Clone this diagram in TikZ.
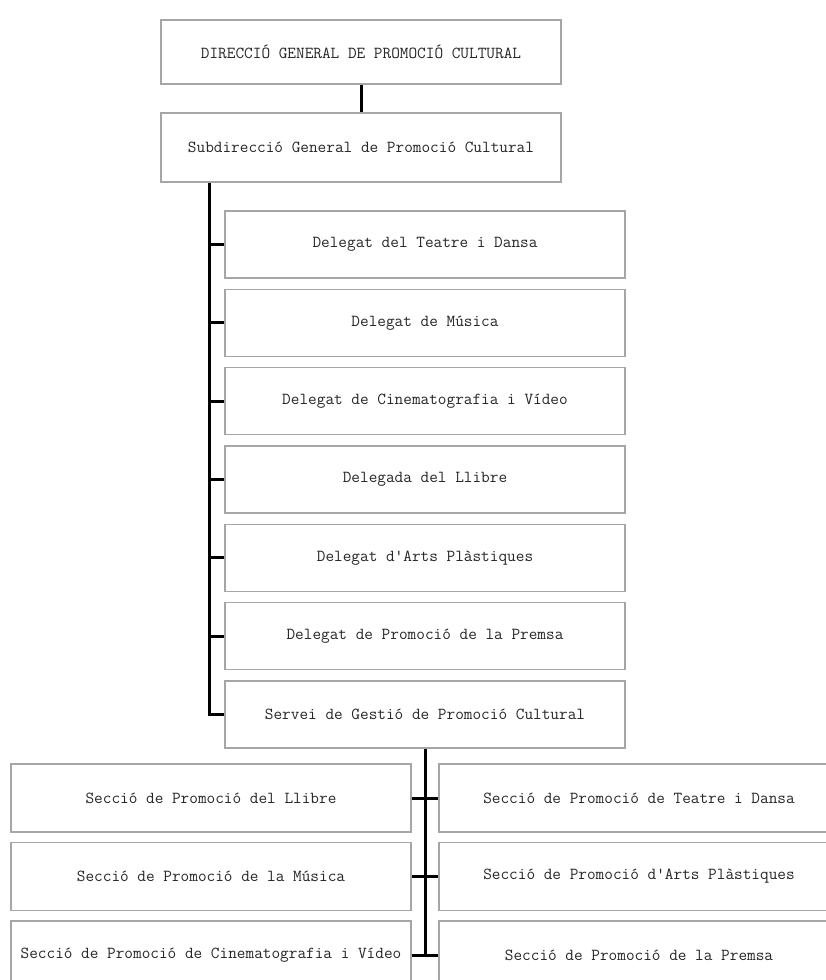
\documentclass[tikz,border=0pt]{standalone}
\usepackage{fontspec}
\begin{document}
\begin{tikzpicture}[x=1pt,y=-1pt,
  box/.style={draw=black!35,line width=1.2pt,rectangle,minimum width=400pt,minimum height=67pt,inner sep=0pt,
    text=black!85,font=\ttfamily\fontsize{16.8}{19}\selectfont},
  conn/.style={draw=black,line width=3pt}]
\useasboundingbox (0,0) rectangle (826,980);
\clip (0,0) rectangle (826,980);
\fill[white] (0,0) rectangle (826,980);
\node[box,minimum height=64pt] (dir) at (361,52) {DIRECCIÓ GENERAL DE PROMOCIÓ CULTURAL};
\node[box,minimum height=69pt] (sub) at (361,147.5) {Subdirecció General de Promoció Cultural};
\node[box] (d1) at (425,244.5) {Delegat del Teatre i Dansa};
\node[box] (d2) at (425,322.8) {Delegat de Música};
\node[box] (d3) at (425,401.2) {Delegat de Cinematografia i Vídeo};
\node[box] (d4) at (425,479.5) {Delegada del Llibre};
\node[box] (d5) at (425,557.8) {Delegat d'Arts Plàstiques};
\node[box] (d6) at (425,636.2) {Delegat de Promoció de la Premsa};
\node[box] (d7) at (425,714.5) {Servei de Gestió de Promoció Cultural};
\node[box,minimum height=68pt] (l1) at (211,798) {Secció de Promoció del Llibre};
\node[box,minimum height=68pt] (l2) at (211,876.5) {Secció de Promoció de la Música};
\node[box,minimum height=68pt] (l3) at (211,955) {Secció de Promoció de Cinematografia i Vídeo};
\node[box,minimum height=68pt] (r1) at (639,798) {Secció de Promoció de Teatre i Dansa};
\node[box,minimum height=68pt] (r2) at (639,876.5) {Secció de Promoció d'Arts Plàstiques};
\node[box,minimum height=68pt] (r3) at (639,955) {Secció de Promoció de la Premsa};
\coordinate (spine) at ([xshift=49pt]sub.south west);
\draw[conn] (dir.south) -- (sub.north);
\draw[conn] (spine) |- (d7.west);
\foreach \n in {d1,d2,d3,d4,d5,d6}{\draw[conn] (\n.west) -- (\n.west -| spine);}
\draw[conn] (d7.south) -- (d7.south |- l3.east);
\foreach \i in {1,2,3}{\draw[conn] (l\i.east) -- (r\i.west);}
\end{tikzpicture}
\end{document}
